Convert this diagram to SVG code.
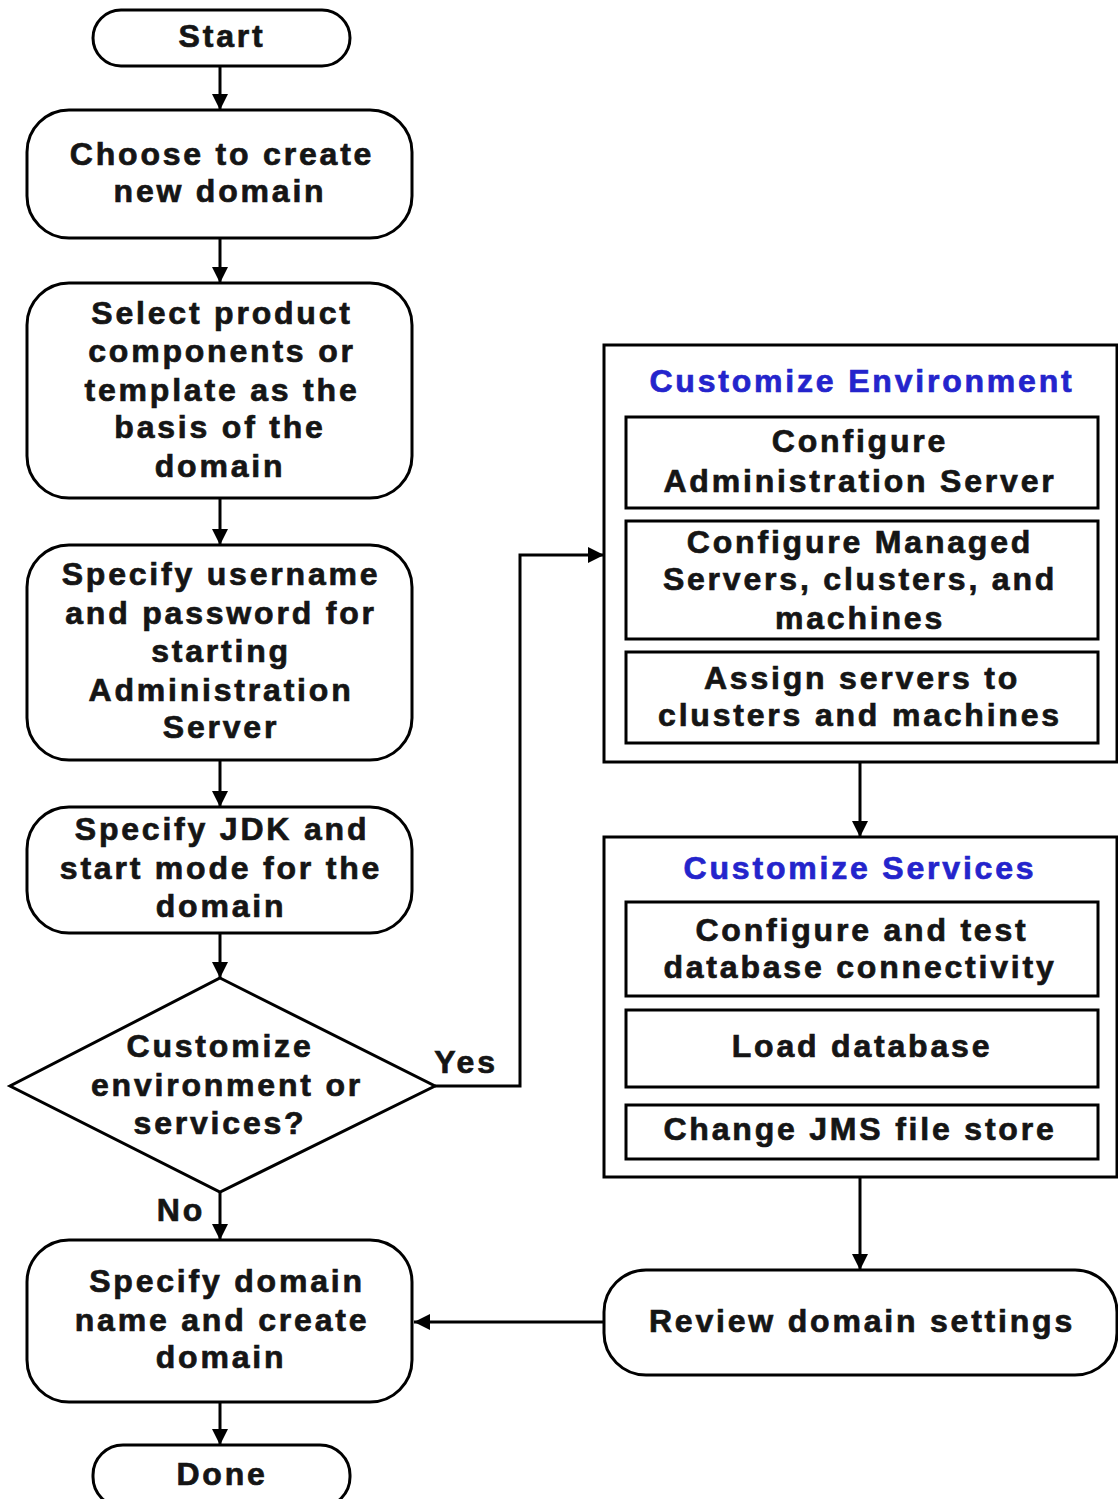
<svg xmlns="http://www.w3.org/2000/svg" width="1118" height="1499" viewBox="0 0 1118 1499">
<defs>
<marker id="arr" viewBox="0 0 16 16" refX="16" refY="8" markerWidth="16" markerHeight="16" orient="auto" markerUnits="userSpaceOnUse">
<path d="M0,0 L16,8 L0,16 z" fill="#000"/>
</marker>
</defs>
<style>
.n{fill:#fff;stroke:#000;stroke-width:3}
.t{font-family:"Liberation Sans",Arial,sans-serif;font-weight:bold;font-size:32px;fill:#151515;stroke:#151515;stroke-width:0.7;text-anchor:middle;letter-spacing:2.8px}
.h{font-family:"Liberation Sans",Arial,sans-serif;font-weight:bold;font-size:32px;fill:#2424cc;stroke:#2424cc;stroke-width:0.7;text-anchor:middle;letter-spacing:2.8px}
.c{fill:none;stroke:#000;stroke-width:3}
</style>
<rect width="1118" height="1499" fill="#fff"/>
<g id="connectors">
<path class="c" d="M220,66 L220,110" marker-end="url(#arr)"/>
<path class="c" d="M220,238 L220,283" marker-end="url(#arr)"/>
<path class="c" d="M220,498 L220,545" marker-end="url(#arr)"/>
<path class="c" d="M220,760 L220,807" marker-end="url(#arr)"/>
<path class="c" d="M220,933 L220,978" marker-end="url(#arr)"/>
<path class="c" d="M220,1192 L220,1240" marker-end="url(#arr)"/>
<path class="c" d="M220,1402 L220,1445" marker-end="url(#arr)"/>
<path class="c" d="M435,1086 L520,1086 L520,555 L604,555" marker-end="url(#arr)"/>
<path class="c" d="M860,762 L860,837" marker-end="url(#arr)"/>
<path class="c" d="M860,1177 L860,1270" marker-end="url(#arr)"/>
<path class="c" d="M604,1322 L414,1322" marker-end="url(#arr)"/>
<text class="t" x="466" y="1073">Yes</text>
<text class="t" x="181" y="1221">No</text>
</g>
<g id="start">
<rect class="n" x="93" y="10" width="257" height="56" rx="28"/>
<text class="t" x="222" y="47">Start</text>
</g>
<g id="choose">
<rect class="n" x="27" y="110" width="385" height="128" rx="42"/>
<text class="t" x="222" y="165">Choose to create</text>
<text class="t" x="220" y="202">new domain</text>
</g>
<g id="select">
<rect class="n" x="27" y="283" width="385" height="215" rx="42"/>
<text class="t" x="222" y="324">Select product</text>
<text class="t" x="222" y="362">components or</text>
<text class="t" x="222" y="401">template as the</text>
<text class="t" x="220" y="438">basis of the</text>
<text class="t" x="220" y="477">domain</text>
</g>
<g id="username">
<rect class="n" x="27" y="545" width="385" height="215" rx="42"/>
<text class="t" x="221" y="585">Specify username</text>
<text class="t" x="221" y="624">and password for</text>
<text class="t" x="221" y="662">starting</text>
<text class="t" x="221" y="701">Administration</text>
<text class="t" x="221" y="738">Server</text>
</g>
<g id="jdk">
<rect class="n" x="27" y="807" width="385" height="126" rx="42"/>
<text class="t" x="222" y="840">Specify JDK and</text>
<text class="t" x="221" y="879">start mode for the</text>
<text class="t" x="221" y="917">domain</text>
</g>
<g id="decision">
<path class="n" d="M220,978 L435,1086 L220,1192 L10,1086 z" stroke-width="2"/>
<text class="t" x="220" y="1057">Customize</text>
<text class="t" x="227" y="1096">environment or</text>
<text class="t" x="220" y="1134">services?</text>
</g>
<g id="specifydomain">
<rect class="n" x="27" y="1240" width="385" height="162" rx="42"/>
<text class="t" x="227" y="1292">Specify domain</text>
<text class="t" x="222" y="1331">name and create</text>
<text class="t" x="221" y="1368">domain</text>
</g>
<g id="done">
<rect class="n" x="93" y="1445" width="257" height="62" rx="30"/>
<text class="t" x="222" y="1485">Done</text>
</g>
<g id="env">
<rect class="n" x="604" y="345" width="513" height="417"/>
<text class="h" x="862" y="392">Customize Environment</text>
<rect class="n" x="626" y="417" width="472" height="91"/>
<text class="t" x="860" y="452">Configure</text>
<text class="t" x="860" y="492">Administration Server</text>
<rect class="n" x="626" y="521" width="472" height="118"/>
<text class="t" x="860" y="553">Configure Managed</text>
<text class="t" x="860" y="590">Servers, clusters, and</text>
<text class="t" x="860" y="629">machines</text>
<rect class="n" x="626" y="652" width="472" height="91"/>
<text class="t" x="862" y="689">Assign servers to</text>
<text class="t" x="860" y="726">clusters and machines</text>
</g>
<g id="services">
<rect class="n" x="604" y="837" width="513" height="340"/>
<text class="h" x="860" y="879">Customize Services</text>
<rect class="n" x="626" y="902" width="472" height="94"/>
<text class="t" x="862" y="941">Configure and test</text>
<text class="t" x="860" y="978">database connectivity</text>
<rect class="n" x="626" y="1010" width="472" height="77"/>
<text class="t" x="862" y="1057">Load database</text>
<rect class="n" x="626" y="1105" width="472" height="54"/>
<text class="t" x="860" y="1140">Change JMS file store</text>
</g>
<g id="review">
<rect class="n" x="604" y="1270" width="513" height="105" rx="42"/>
<text class="t" x="862" y="1332">Review domain settings</text>
</g>
</svg>
